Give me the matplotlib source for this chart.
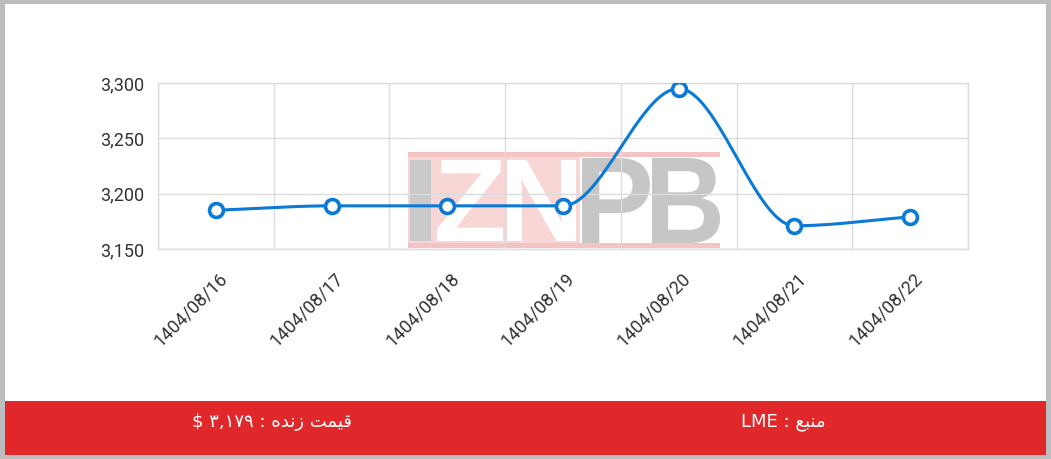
import numpy as np
import matplotlib
matplotlib.use("Agg")
import matplotlib.pyplot as plt
from matplotlib.patches import Rectangle, PathPatch
from matplotlib.textpath import TextPath
from matplotlib.font_manager import FontProperties
from matplotlib.transforms import Affine2D, ScaledTranslation
from matplotlib.ticker import FuncFormatter

# data
dates = ["1404/08/16", "1404/08/17", "1404/08/18", "1404/08/19",
         "1404/08/20", "1404/08/21", "1404/08/22"]
prices = [3185, 3189, 3189, 3189, 3295, 3171, 3179]
y_ticks = [3150, 3200, 3250, 3300]
footer_left = "قیمت زنده : ۳,۱۷۹ $"
footer_right = "منبع : LME"

W, H = 1051, 459
LINE_BLUE = "#0b7ad6"
RED = "#e0282a"
GRID = "#dcdcdc"

# --- minimal arabic shaping (matplotlib does no bidi / joining) ---
FORMS = {
    "م": (0xFEE1, 0xFEE2, 0xFEE3, 0xFEE4),
    "ن": (0xFEE5, 0xFEE6, 0xFEE7, 0xFEE8),
    "ب": (0xFE8F, 0xFE90, 0xFE91, 0xFE92),
    "ع": (0xFEC9, 0xFECA, 0xFECB, 0xFECC),
    "ق": (0xFED5, 0xFED6, 0xFED7, 0xFED8),
    "ی": (0xFBFC, 0xFBFD, 0xFBFE, 0xFBFF),
    "ت": (0xFE95, 0xFE96, 0xFE97, 0xFE98),
    "ه": (0xFEE9, 0xFEEA, 0xFEEB, 0xFEEC),
    "ز": (0xFEAF, 0xFEB0, None, None),
    "د": (0xFEA9, 0xFEAA, None, None),
}
NO_LEFT_JOIN = set("ادذرزو")


def shape_word(word):
    out = []
    for i, ch in enumerate(word):
        if ch not in FORMS:
            out.append(ch)
            continue
        prev_joins = i > 0 and word[i-1] in FORMS and word[i-1] not in NO_LEFT_JOIN
        next_joins = (i < len(word) - 1 and word[i+1] in FORMS
                      and ch not in NO_LEFT_JOIN)
        iso, fin, ini, med = FORMS[ch]
        if prev_joins and next_joins:
            code = med
        elif next_joins:
            code = ini
        elif prev_joins:
            code = fin
        else:
            code = iso
        out.append(chr(code))
    return "".join(reversed(out))


def rtl(text):
    tokens = text.split(" ")
    vis = [shape_word(t) if any(c in FORMS for c in t) else t for t in tokens]
    return " ".join(reversed(vis))


def monotone_curve(x, y, n=40):
    # monotone cubic (Fritsch-Carlson), same idea as chart.js "monotone"
    x = np.asarray(x, float)
    y = np.asarray(y, float)
    d = np.diff(y) / np.diff(x)
    m = np.zeros(len(x))
    m[0], m[-1] = d[0], d[-1]
    for i in range(1, len(x) - 1):
        if d[i-1] != 0 and d[i] != 0 and np.sign(d[i-1]) == np.sign(d[i]):
            m[i] = (d[i-1] + d[i]) / 2
    for i in range(len(d)):
        if d[i] == 0:
            m[i] = m[i+1] = 0
            continue
        a, b = m[i] / d[i], m[i+1] / d[i]
        s = a * a + b * b
        if s > 9:
            t = 3 / np.sqrt(s)
            m[i], m[i+1] = a * t * d[i], b * t * d[i]
    xs, ys = [], []
    for i in range(len(d)):
        h = x[i+1] - x[i]
        t = np.linspace(0, 1, n)
        h00 = 2*t**3 - 3*t**2 + 1
        h10 = t**3 - 2*t**2 + t
        h01 = -2*t**3 + 3*t**2
        h11 = t**3 - t**2
        xs.append(x[i] + t * h)
        ys.append(h00*y[i] + h10*h*m[i] + h01*y[i+1] + h11*h*m[i+1])
    return np.concatenate(xs), np.concatenate(ys)


fig = plt.figure(figsize=(W / 100, H / 100), dpi=100)
fig.patch.set_facecolor("white")

ax = fig.add_axes([158 / W, 1 - 249 / H, (968 - 158) / W, (249 - 83) / H])
ax.set_facecolor("none")


def px_box(x0, x1, ytop, ybot):
    # figure pixel box (from top-left) -> figure fraction
    return x0 / W, x1 / W, 1 - ybot / H, 1 - ytop / H


# watermark logo
def logo_rect(x0, x1, ytop, ybot, color):
    fx0, fx1, fy0, fy1 = px_box(x0, x1, ytop, ybot)
    ax.add_artist(Rectangle((fx0, fy0), fx1 - fx0, fy1 - fy0, transform=fig.transFigure,
                            facecolor=color, edgecolor="none", zorder=0.1, clip_on=False))


def logo_letter(ch, x0, x1, ytop, ybot, color):
    fp = FontProperties(family="Liberation Sans", weight="bold")
    tp = TextPath((0, 0), ch, size=1, prop=fp)
    ext = tp.get_extents()
    fx0, fx1, fy0, fy1 = px_box(x0, x1, ytop, ybot)
    tr = (Affine2D().translate(-ext.x0, -ext.y0)
          .scale((fx1 - fx0) / ext.width, (fy1 - fy0) / ext.height)
          .translate(fx0, fy0) + fig.transFigure)
    ax.add_artist(PathPatch(tp, transform=tr, facecolor=color, edgecolor="none",
                            zorder=0.2, clip_on=False))


logo_rect(408, 580, 157, 243, "#f8d6d6")
logo_rect(408, 720, 152, 157, "#f4c4c4")
logo_rect(408, 720, 243, 248, "#f4c4c4")
logo_letter("I", 410, 431, 160, 241, "#cacaca")
logo_letter("Z", 437, 503, 160, 241, "white")
logo_letter("N", 507, 576, 160, 241, "white")
logo_letter("P", 582, 650, 158, 243, "#c6c6c6")
logo_letter("B", 652, 720, 158, 243, "#c6c6c6")

# line + points
xpos = np.arange(len(dates))
cx, cy = monotone_curve(xpos, prices)
ax.plot(cx, cy, color=LINE_BLUE, linewidth=2.2, zorder=3)
ax.plot(xpos, prices, linestyle="none", marker="o", markersize=10,
        markerfacecolor="white", markeredgecolor=LINE_BLUE, markeredgewidth=2.6,
        zorder=4)

ax.set_xlim(-0.5, len(dates) - 0.5)
ax.set_ylim(y_ticks[0], y_ticks[-1])
ax.set_yticks(y_ticks)
ax.yaxis.set_major_formatter(FuncFormatter(lambda v, p: f"{int(v):,}"))
ax.set_xticks(xpos)
ax.set_xticks(np.arange(-0.5, len(dates)), minor=True)
ax.grid(True, which="minor", axis="x", color=GRID, linewidth=1)
ax.grid(True, which="major", axis="y", color=GRID, linewidth=1)
ax.set_axisbelow(True)
ax.tick_params(which="both", length=0)
ax.tick_params(axis="y", pad=10, labelsize=13, labelcolor="#333333")
for sp in ax.spines.values():
    sp.set_color(GRID)
    sp.set_linewidth(1)

ax.set_xticklabels(dates, rotation=45, ha="right", va="center",
                   rotation_mode="anchor", fontsize=13, color="#333333")
ax.tick_params(axis="x", pad=19)
for lab in ax.get_xticklabels():
    lab.set_transform(lab.get_transform() + ScaledTranslation(9 / 100, 0, fig.dpi_scale_trans))
for lab in ax.get_yticklabels():
    lab.set_fontfamily("Roboto")
for lab in ax.get_xticklabels():
    lab.set_fontfamily("Roboto")

# red footer bar
fx0, fx1, fy0, fy1 = px_box(5, 1046, 401, 455)
fig.add_artist(Rectangle((fx0, fy0), fx1 - fx0, fy1 - fy0, transform=fig.transFigure,
                         facecolor=RED, edgecolor="none", zorder=1))
fig.text(272 / W, 1 - 422 / H, rtl(footer_left), color="white", fontsize=13,
         family=["DejaVu Sans"], ha="center", va="center", zorder=2)
fig.text(783 / W, 1 - 422 / H, rtl(footer_right), color="white", fontsize=13,
         family=["DejaVu Sans"], ha="center", va="center", zorder=2)

# gray frame around the picture
for x0, x1, yt, yb in [(0, 5, 0, H), (1046, W, 0, H), (0, W, 0, 4), (0, W, 455, H)]:
    bx0, bx1, by0, by1 = px_box(x0, x1, yt, yb)
    fig.add_artist(Rectangle((bx0, by0), bx1 - bx0, by1 - by0, transform=fig.transFigure,
                             facecolor="#bdbdbd", edgecolor="none", zorder=3))

fig.savefig("out.png", dpi=100)
